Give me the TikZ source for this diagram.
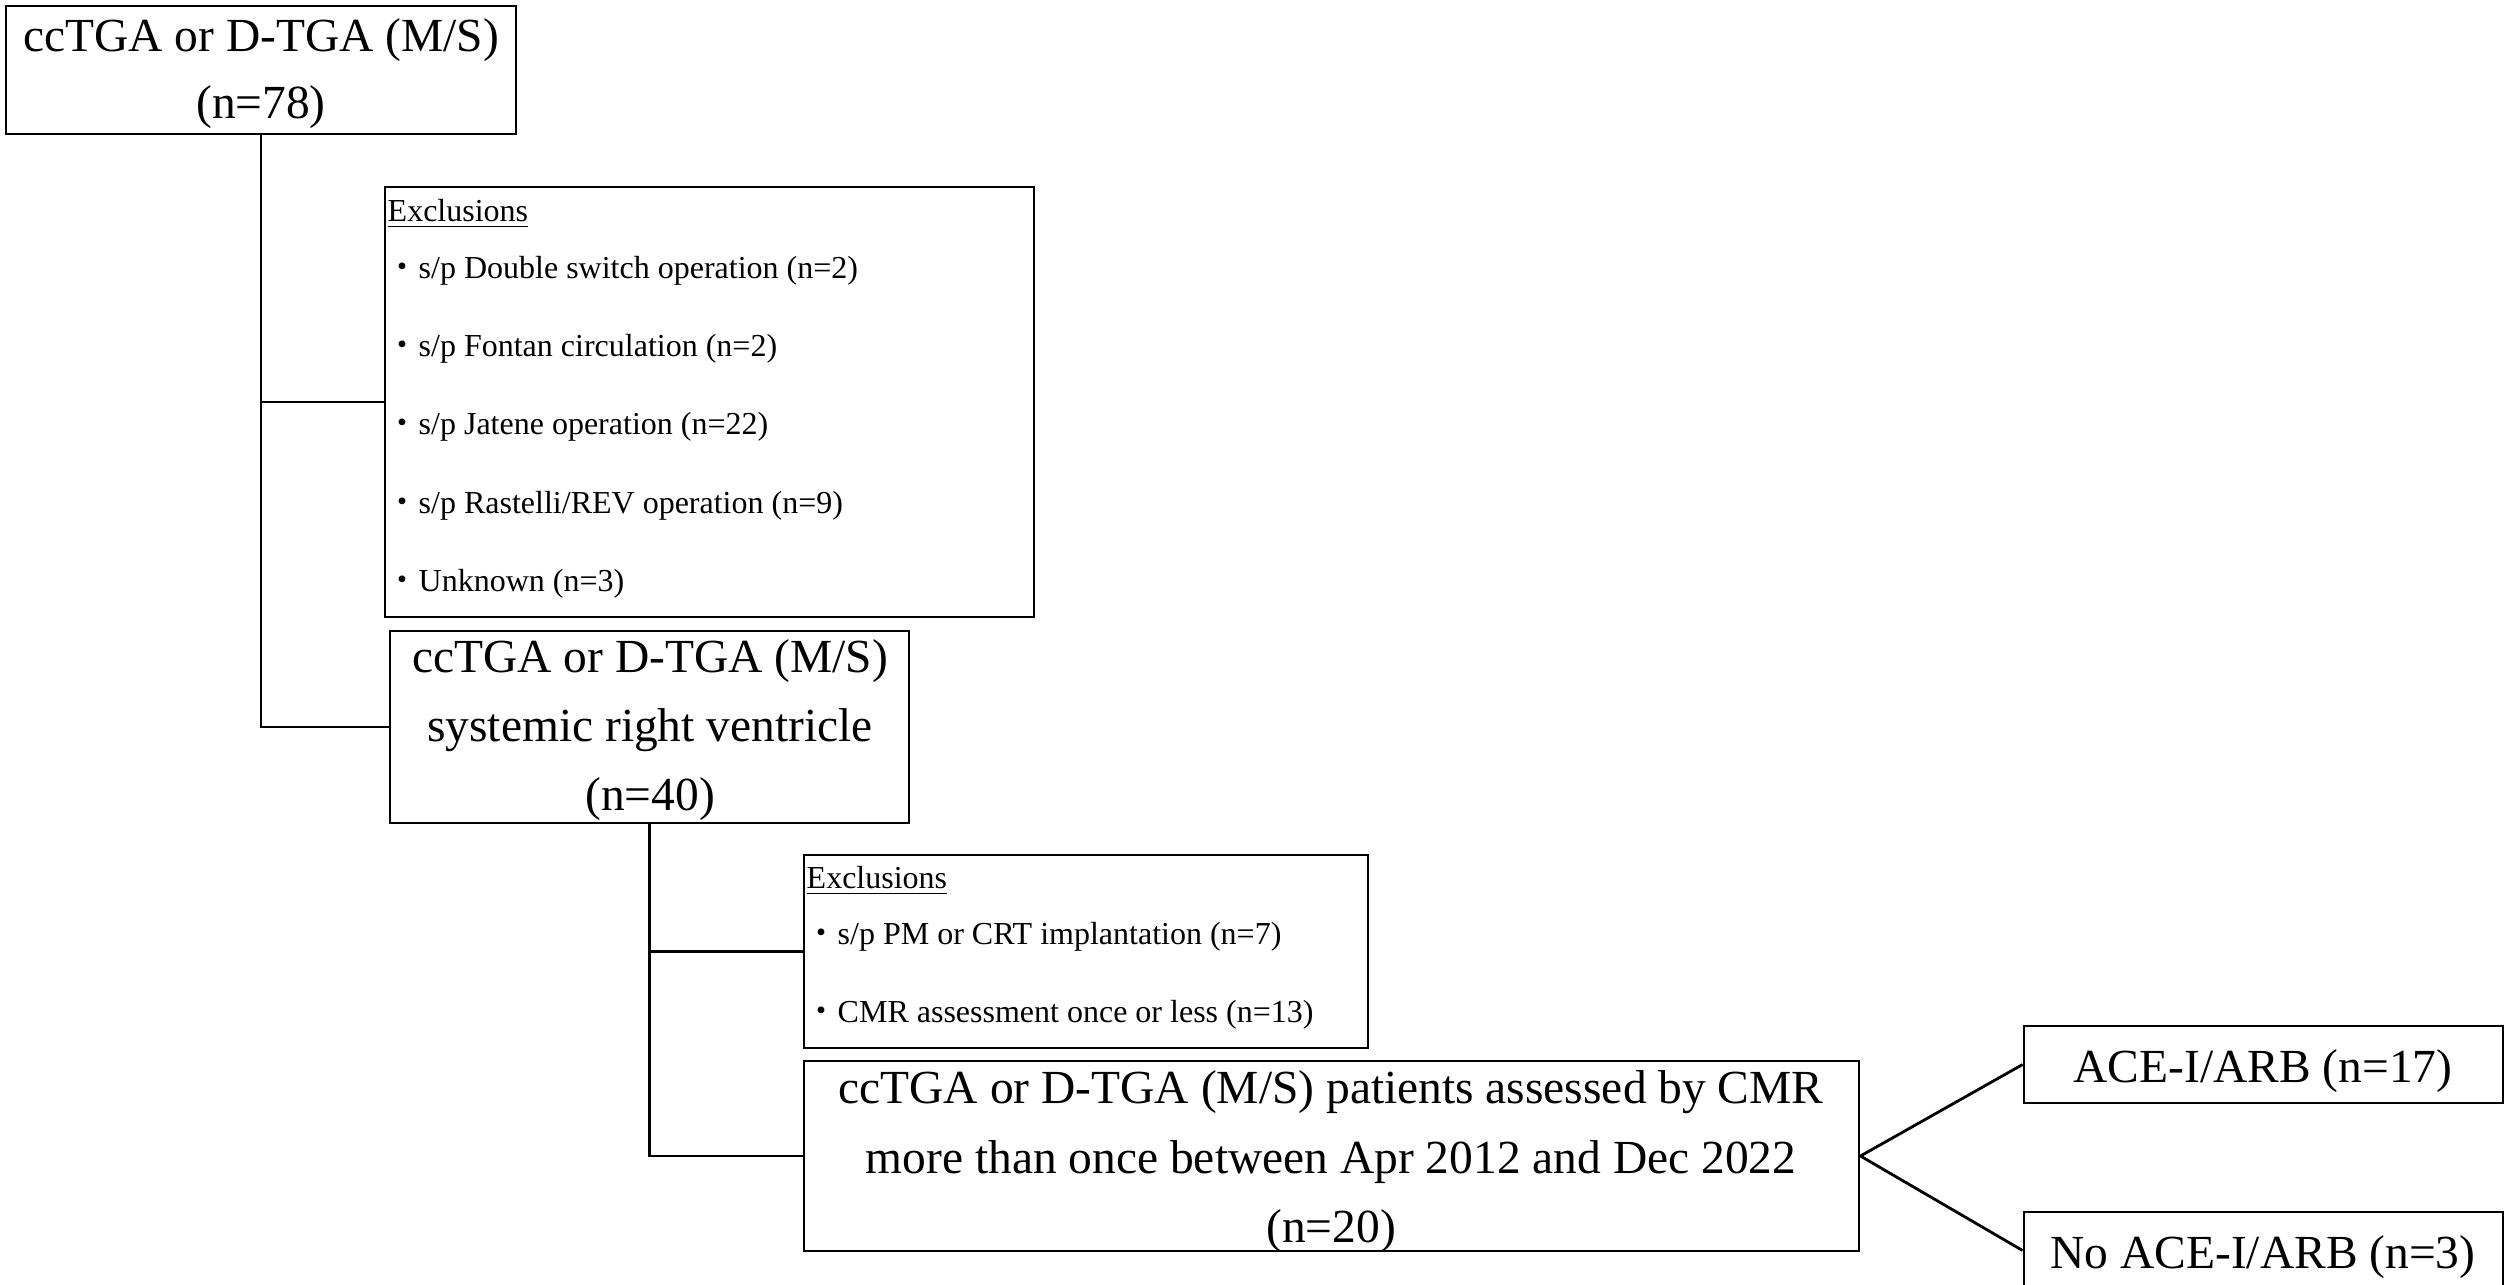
\documentclass[tikz,border=0pt]{standalone}
\usepackage{fontspec}
\setmainfont{Liberation Serif}
\newfontfamily\cjk{Noto Sans CJK JP}
\usetikzlibrary{fit}
\begin{document}
\begin{tikzpicture}[x=0.01cm,y=-0.01cm,
  box/.style={draw, line width=0.8pt, inner sep=0pt},
  big/.style={font=\fontsize{13.5}{16}\selectfont, inner sep=0pt, anchor=base},
  small/.style={font=\fontsize{9.1}{11}\selectfont, inner sep=0pt, anchor=base west},
  conn/.style={line width=0.8pt}]
\useasboundingbox (0,0) rectangle (2506,1284);
\clip (0,0) rectangle (2506,1284);
% boxes
\node[box, fit={(6,6)(516,134)}] (b1) {};
\node[box, fit={(385,187)(1034,617)}] (e1) {};
\node[box, fit={(390,631)(909,823)}] (b2) {};
\node[box, fit={(804,855)(1368,1048)}] (e2) {};
\node[box, fit={(804,1061)(1859,1251)}] (b3) {};
\node[box, fit={(2024,1026)(2503,1103)}] (a1) {};
\node[box, fit={(2024,1212)(2503,1289)}] (a2) {};
% texts of main boxes
\node[big] (b1l1) at (261,51) {ccTGA or D-TGA (M/S)};
\node[big] (b1l2) at (261,118) {(n=78)};
\node[big] (b2l1) at (650,672) {ccTGA or D-TGA (M/S)};
\node[big] (b2l2) at (650,741) {systemic right ventricle};
\node[big] (b2l3) at (650,810) {(n=40)};
\node[big] (b3l1) at (1331,1103) {ccTGA or D-TGA (M/S) patients assessed by CMR};
\node[big] (b3l2) at (1331,1173) {more than once between Apr 2012 and Dec 2022};
\node[big] (b3l3) at (1331,1242) {(n=20)};
\node[big] (a1l) at (2263,1082) {ACE-I/ARB (n=17)};
\node[big] (a2l) at (2263,1268) {No ACE-I/ARB (n=3)};
% exclusions 1
\node[small] (e1h) at (387,221.5) {\underline{Exclusions}};
\node[small] (e1i1) at (386,278) {{\cjk ・}s/p Double switch operation (n=2)};
\node[small] (e1i2) at (386,356) {{\cjk ・}s/p Fontan circulation (n=2)};
\node[small] (e1i3) at (386,434) {{\cjk ・}s/p Jatene operation (n=22)};
\node[small] (e1i4) at (386,513) {{\cjk ・}s/p Rastelli/REV operation (n=9)};
\node[small] (e1i5) at (386,591) {{\cjk ・}Unknown (n=3)};
% exclusions 2
\node[small] (e2h) at (806,888) {\underline{Exclusions}};
\node[small] (e2i1) at (805,944) {{\cjk ・}s/p PM or CRT implantation (n=7)};
\node[small] (e2i2) at (805,1022) {{\cjk ・}CMR assessment once or less (n=13)};
% connectors
\draw[conn] (b1.south) -- (b1.south |- b2.west) -- (b2.west);
\draw[conn] (b1.south |- e1.west) -- (e1.west);
\draw[conn] (b2.south) -- (b2.south |- b3.west) -- (b3.west);
\draw[conn] (b2.south |- e2.west) -- (e2.west);
\draw[conn] (b3.east) -- (a1.west);
\draw[conn] (b3.east) -- (a2.west);
\end{tikzpicture}
\end{document}
